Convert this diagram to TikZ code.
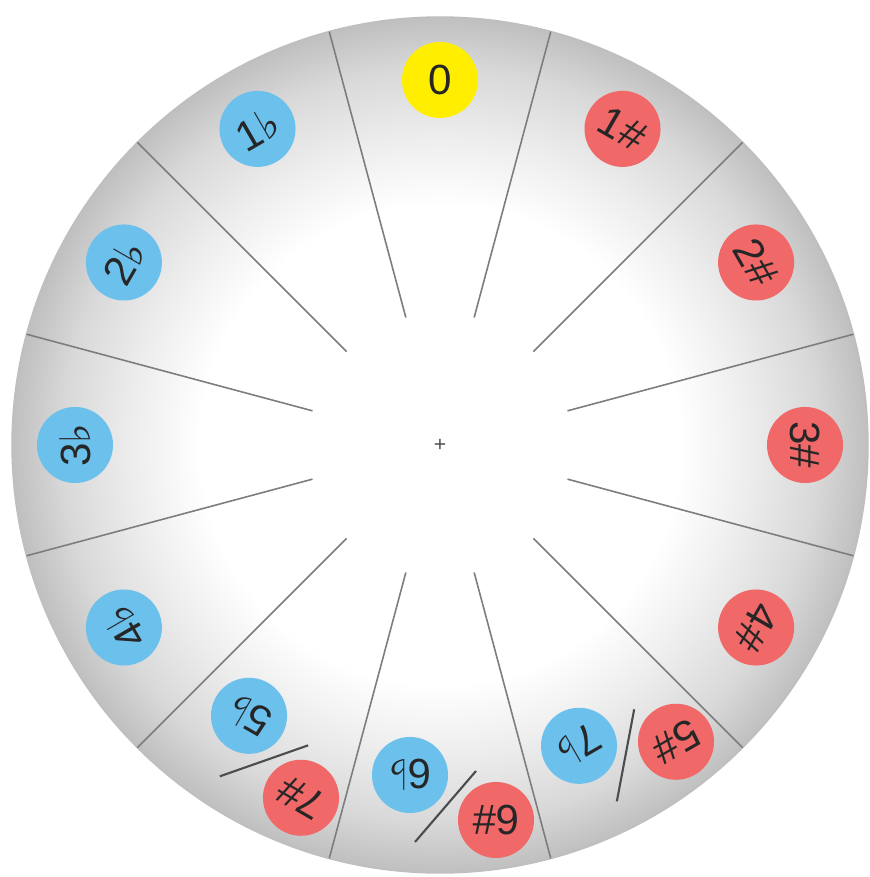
\documentclass[tikz,border=0pt]{standalone}
\usepackage{fontspec}
\setmainfont{Liberation Sans}
\newfontfamily\symfont{DejaVu Sans}
\usepackage{tikz}
\usetikzlibrary{positioning,calc}

\definecolor{sharpred}{RGB}{240,104,104}
\definecolor{flatblue}{RGB}{108,192,236}
\definecolor{zeroyellow}{RGB}{255,238,0}
\definecolor{divgray}{RGB}{125,125,125}

% grey rim fading to a white middle (25bp = rim)
\pgfdeclareradialshading{dialshade}{\pgfpoint{0bp}{0bp}}{color(0bp)=(white); color(14bp)=(white); color(18bp)=(black!7); color(22bp)=(black!15); color(25bp)=(black!25); color(50bp)=(black!25)}

\newcommand{\fl}{{\symfont ♭}}

\begin{document}
\begin{tikzpicture}[
    x=0.01cm, y=0.01cm,
    key/.style={circle, fill=#1, minimum size=0.76cm, inner sep=0pt, font=\fontsize{12}{14}\selectfont, text=black!85},
    divider/.style={draw=divgray, line width=0.45pt},
    slash/.style={draw=black!70, line width=0.6pt},
]
\useasboundingbox (-440,-432) rectangle (429,445);

% dial
\shade[shading=dialshade] (0,0) circle (428);
\draw[black!25, line width=0.4pt] (0,0) circle (428);
\foreach \a in {15,45,...,345}
    \draw[divider] (\a:132) -- (\a:428);
\node[font=\fontsize{6}{6}\selectfont, text=black!70, inner sep=0pt] (hub) at (0,0) {+};

% single keys
\foreach \k/\lbl/\col in {0/0/zeroyellow, 1/1\#/sharpred, 2/2\#/sharpred, 3/3\#/sharpred, 4/4\#/sharpred,
                          8/4\fl/flatblue, 9/3\fl/flatblue, 10/2\fl/flatblue, 11/1\fl/flatblue}
{
  \begin{scope}[rotate=-30*\k, transform shape]
    \node[key=\col] (key\k) at (0,365) {\lbl};
  \end{scope}
}

% enharmonic pairs
\foreach \k/\sharp/\flat in {5/5\#/7\fl, 6/6\#/6\fl, 7/7\#/5\fl}
{
  \begin{scope}[rotate=-30*\k, transform shape]
    \node[key=sharpred] (sharp\k) at (-56,375) {\sharp};
    \node[key=flatblue] (flat\k) at (30,330) {\flat};
    \draw[slash] (-36,326) -- (25,397);
  \end{scope}
}
\end{tikzpicture}
\end{document}
